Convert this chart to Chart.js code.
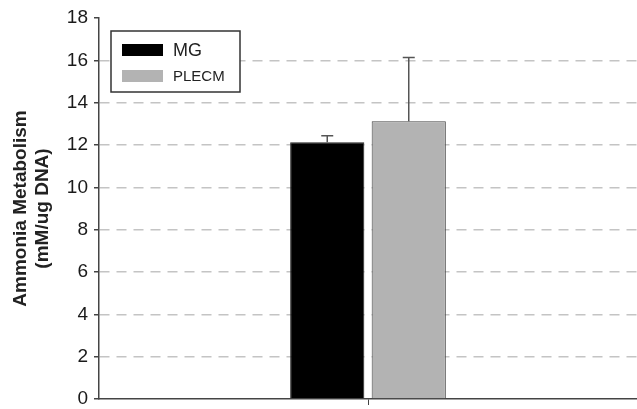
<!DOCTYPE html>
<html>
<head>
<meta charset="utf-8">
<script src="https://cdn.jsdelivr.net/npm/chart.js@4/dist/chart.umd.min.js"></script>
<style>
  html, body { margin: 0; padding: 0; background: #fff; }
  #wrap { width: 637px; height: 409px; }
</style>
</head>
<body>
<div id="wrap"><canvas id="myChart"></canvas></div>
<script>
// chart data
const categories = [''];
const seriesNames = ['MG', 'PLECM'];
const mgValues = [12.13];
const plecmValues = [13.12];
const mgErrors = [0.31];
const plecmErrors = [3.01];
const yMin = 0;
const yMax = 18;
const yStep = 2;
const yTitle = ['Ammonia Metabolism', '(mM/ug DNA)'];

const barColors = ['#000000', '#b3b3b3'];
const errorsBySeries = [mgErrors, plecmErrors];

// upward error bars
const errorBars = {
    id: 'errorBars',
    afterDatasetsDraw(chart) {
        const ctx = chart.ctx;
        const yScale = chart.scales.y;
        ctx.save();
        ctx.strokeStyle = '#555';
        ctx.lineWidth = 1.5;
        chart.data.datasets.forEach((ds, i) => {
            const meta = chart.getDatasetMeta(i);
            meta.data.forEach((bar, j) => {
                const top = yScale.getPixelForValue(ds.data[j] + errorsBySeries[i][j]);
                ctx.beginPath();
                ctx.moveTo(bar.x, bar.y);
                ctx.lineTo(bar.x, top);
                ctx.moveTo(bar.x - 6, top);
                ctx.lineTo(bar.x + 6, top);
                ctx.stroke();
            });
        });
        ctx.restore();
    }
};

// boxed legend like the original
const boxLegend = {
    id: 'boxLegend',
    afterDraw(chart) {
        const ctx = chart.ctx;
        ctx.save();
        ctx.fillStyle = '#fff';
        ctx.fillRect(111, 31, 129, 61);
        ctx.strokeStyle = '#333';
        ctx.lineWidth = 1.5;
        ctx.strokeRect(111, 31, 129, 61);
        const rows = [50, 76];
        const sizes = [18, 15];
        chart.data.datasets.forEach((ds, i) => {
            ctx.fillStyle = ds.backgroundColor;
            ctx.fillRect(122, rows[i] - 6, 41, 12);
            ctx.fillStyle = '#222';
            ctx.font = sizes[i] + 'px "Liberation Sans", Arial, sans-serif';
            ctx.textBaseline = 'middle';
            ctx.fillText(ds.label, 173, rows[i] + 1);
        });
        ctx.restore();
    }
};

const ctx = document.getElementById('myChart').getContext('2d');
const chart = new Chart(ctx, {
    type: 'bar',
    data: {
        labels: categories,
        datasets: [
            {
                label: seriesNames[0],
                data: mgValues,
                backgroundColor: barColors[0],
                borderColor: '#222',
                borderWidth: 1,
                barPercentage: 0.91,
                categoryPercentage: 0.303
            },
            {
                label: seriesNames[1],
                data: plecmValues,
                backgroundColor: barColors[1],
                borderColor: '#444',
                borderWidth: 1,
                barPercentage: 0.91,
                categoryPercentage: 0.303
            }
        ]
    },
    options: {
        responsive: true,
        maintainAspectRatio: false,
        animation: false,
        layout: { padding: { top: 18, right: 0, left: 0, bottom: 0 } },
        plugins: {
            legend: { display: false },
            tooltip: { enabled: false }
        },
        scales: {
            x: {
                offset: true,
                grid: {
                    offset: false,
                    drawOnChartArea: false,
                    color: '#444',
                    tickLength: 6
                },
                border: { color: '#444', width: 1.5 },
                ticks: { display: false },
                afterFit: (scale) => { scale.height = 10; scale.paddingLeft = 0; scale.paddingRight = 0; }
            },
            y: {
                min: yMin,
                max: yMax,
                ticks: {
                    stepSize: yStep,
                    color: '#1a1a1a',
                    padding: 6,
                    font: { family: '"Liberation Sans", Arial, sans-serif', size: 19 }
                },
                grid: {
                    color: (c) => (c.tick && (c.tick.value === yMin || c.tick.value === yMax)) ? 'rgba(0,0,0,0)' : '#c4c4c4',
                    lineWidth: 1.5,
                    tickColor: '#444',
                    tickLength: 5
                },
                border: { color: '#444', width: 1.5, dash: [10, 7] },
                title: {
                    display: true,
                    text: yTitle,
                    color: '#222',
                    font: { family: '"Liberation Sans", Arial, sans-serif', size: 19, weight: 'bold' },
                    lineHeight: 0.98,
                    padding: { top: 9, bottom: 0 }
                },
                afterFit: (scale) => { scale.width = 99; scale.paddingTop = 0; scale.paddingBottom = 0; }
            }
        }
    },
    plugins: [errorBars, boxLegend]
});
</script>
</body>
</html>
